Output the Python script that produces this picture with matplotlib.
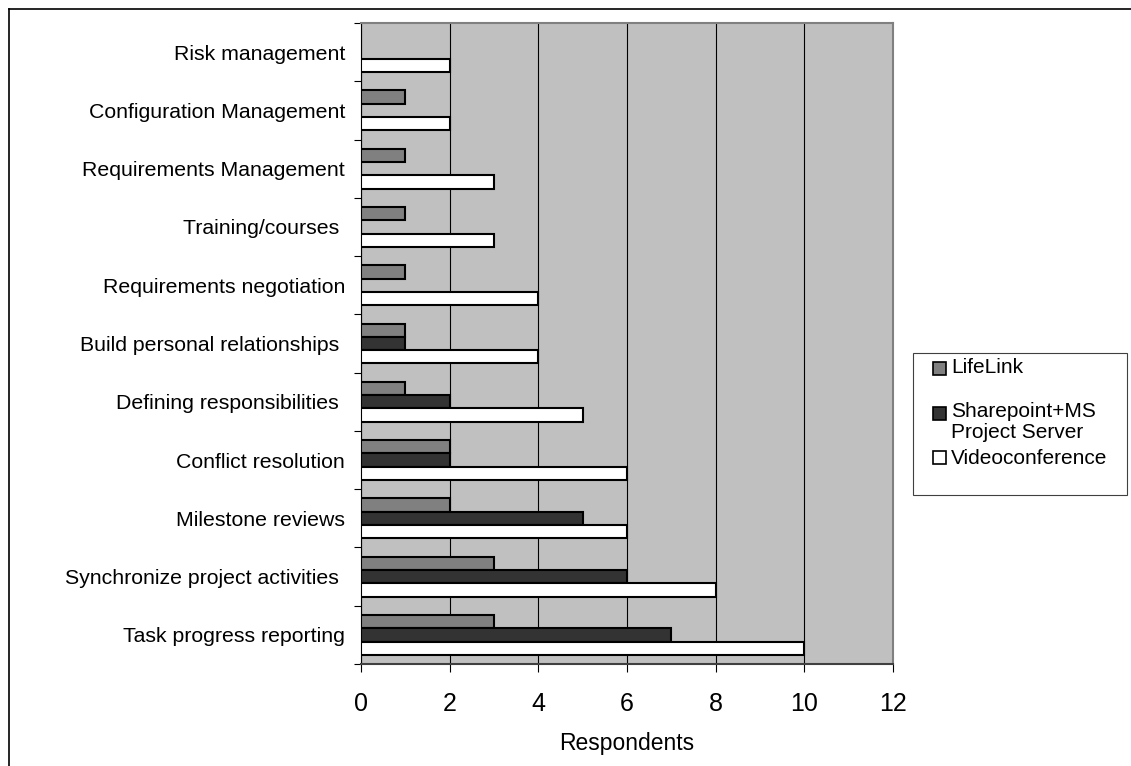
import matplotlib
matplotlib.use('Agg')
from matplotlib import pyplot as plt
from matplotlib import patches as mpatches
from matplotlib.lines import Line2D
import numpy as np

plt.rcParams['font.family'] = ['Liberation Sans', 'DejaVu Sans']

# categories from bottom to top
categories = ['Task progress reporting', 'Synchronize project activities ', 'Milestone reviews',
              'Conflict resolution', 'Defining responsibilities ', 'Build personal relationships ',
              'Requirements negotiation', 'Training/courses ', 'Requirements Management',
              'Configuration Management', 'Risk management']
lifelink = [3, 3, 2, 2, 1, 1, 1, 1, 1, 1, 0]
sharepoint = [7, 6, 5, 2, 2, 1, 0, 0, 0, 0, 0]
videoconf = [10, 8, 6, 6, 5, 4, 4, 3, 3, 2, 2]
series_names = ['LifeLink', 'Sharepoint+MS\nProject Server', 'Videoconference']
series_colors = ['#808080', '#333333', '#ffffff']
x_ticks = [0, 2, 4, 6, 8, 10, 12]

W, H = 1131, 766
fig = plt.figure(figsize=(W / 100, H / 100), dpi=100)
ax = fig.add_axes([361 / W, 1 - 664 / H, (893 - 361) / W, (664 - 23) / H])
ax.set_facecolor('#c0c0c0')

y = np.arange(len(categories))
h = 0.228
offsets = [h, 0, -h]
for vals, off, col in zip([lifelink, sharepoint, videoconf], offsets, series_colors):
    lws = [1.5 if v > 0 else 0 for v in vals]
    ax.barh(y + off, vals, height=h, color=col, edgecolor='black', linewidth=lws, zorder=3)

ax.set_xlim(0, 12)
ax.set_ylim(-0.5, len(categories) - 0.5)
ax.set_xticks(x_ticks)
ax.set_xticklabels([str(t) for t in x_ticks], fontsize=18)
ax.tick_params(axis='x', direction='out', length=6, width=0.8, pad=14.5, colors='black')
ax.grid(axis='x', color='black', linewidth=0.8, zorder=1)
ax.set_axisbelow(True)

ax.set_yticks(np.arange(-0.5, len(categories), 1))
ax.set_yticklabels([])
ax.tick_params(axis='y', which='major', direction='out', length=5, width=0.8)
ax.set_yticks(y, categories, minor=True)
ax.tick_params(axis='y', which='minor', length=0, pad=11.5, labelsize=15.3)

ax.set_xlabel('Respondents', fontsize=16.5, labelpad=11)

ax.spines['top'].set_color('#808080')
ax.spines['right'].set_color('#808080')
ax.spines['top'].set_linewidth(1.5)
ax.spines['right'].set_linewidth(1.5)
ax.spines['bottom'].set_color('#404040')
ax.spines['bottom'].set_linewidth(1.5)
ax.spines['left'].set_color('black')
ax.spines['left'].set_linewidth(0.8)

# legend box drawn by hand
def fx(px):
    return px / W

def fy(px):
    return 1 - px / H

fig.patches.append(mpatches.Rectangle((fx(913), fy(495)), fx(1127) - fx(913), fy(353) - fy(495),
                                      transform=fig.transFigure, facecolor='white',
                                      edgecolor='#404040', linewidth=0.8))
for name, col, ypx in zip(series_names, series_colors, [368, 413, 458]):
    fig.patches.append(mpatches.Rectangle((fx(933), fy(ypx + 6.5)), fx(13), 13 / H,
                                          transform=fig.transFigure, facecolor=col,
                                          edgecolor='black', linewidth=1.2))
    if '\n' in name:
        fig.text(fx(951), fy(ypx - 11), name, fontsize=15, va='top', ha='left', linespacing=1.15)
    else:
        fig.text(fx(951), fy(ypx), name, fontsize=15, va='center', ha='left')

# outer chart border (only top and left visible)
fig.add_artist(Line2D([fx(8.5), fx(8.5)], [0, fy(9.3)], transform=fig.transFigure, color='black', linewidth=1.2))
fig.add_artist(Line2D([fx(8.5), 1], [fy(9.3), fy(9.3)], transform=fig.transFigure, color='black', linewidth=1.2))

fig.savefig('out.png', dpi=100)
